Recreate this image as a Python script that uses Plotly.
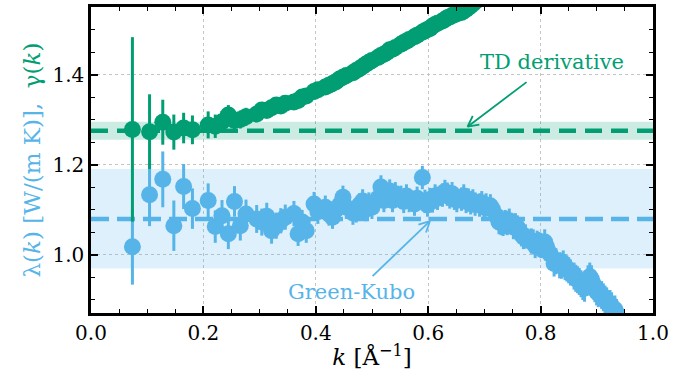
import math
import plotly.graph_objects as go

# ---------------- data ----------------
k_gk = [0.0737, 0.1042, 0.1277, 0.1474, 0.1648, 0.1805, 0.2085, 0.2211, 0.2331, 0.2444,
        0.2553, 0.2657, 0.2758, 0.2948, 0.3039, 0.3127, 0.3213, 0.3296, 0.3377, 0.3457,
        0.3611, 0.3685, 0.3758, 0.3830, 0.3969, 0.4037, 0.4169, 0.4234, 0.4297, 0.4360,
        0.4422, 0.4483, 0.4543, 0.4661, 0.4719, 0.4776, 0.4833, 0.4889, 0.4944, 0.4999,
        0.5106, 0.5159, 0.5211, 0.5263, 0.5315, 0.5365, 0.5416, 0.5515, 0.5564, 0.5613,
        0.5661, 0.5756, 0.5803, 0.5896, 0.5942, 0.5987, 0.6033, 0.6077, 0.6122, 0.6166,
        0.6254, 0.6297, 0.6340, 0.6383, 0.6425, 0.6467, 0.6509, 0.6592, 0.6633, 0.6674,
        0.6714, 0.6755, 0.6795, 0.6835, 0.6914, 0.6953, 0.6992, 0.7030, 0.7107, 0.7146,
        0.7221, 0.7259, 0.7296, 0.7333, 0.7370, 0.7407, 0.7443, 0.7516, 0.7552, 0.7588,
        0.7624, 0.7659, 0.7694, 0.7730, 0.7834, 0.7869, 0.7903, 0.7938, 0.7972, 0.8006,
        0.8073, 0.8107, 0.8140, 0.8174, 0.8240, 0.8273, 0.8338, 0.8371, 0.8403, 0.8435,
        0.8467, 0.8500, 0.8531, 0.8595, 0.8626, 0.8658, 0.8689, 0.8720, 0.8751, 0.8782,
        0.8844, 0.8875, 0.8905, 0.8936, 0.8966, 0.8996, 0.9026, 0.9086, 0.9116, 0.9146,
        0.9176, 0.9235, 0.9264, 0.9322, 0.9351]

lam_gk = [1.017, 1.133, 1.167, 1.064, 1.151, 1.102,
          1.120, 1.062, 1.086, 1.046, 1.118, 1.064, 1.090,
          1.079, 1.072, 1.085, 1.053, 1.064, 1.075, 1.083,
          1.091, 1.046, 1.072, 1.053,
          1.112, 1.095,
          1.105, 1.090, 1.083, 1.100, 1.110, 1.127, 1.105,
          1.092, 1.097, 1.110, 1.119, 1.100, 1.112, 1.105,
          1.125, 1.150, 1.120, 1.130, 1.141, 1.120, 1.135,
          1.127, 1.118, 1.130, 1.120,
          1.112, 1.125,
          1.171, 1.118, 1.110, 1.122, 1.119, 1.130, 1.125,
          1.132, 1.140, 1.134, 1.128, 1.135, 1.125, 1.120,
          1.123, 1.130, 1.118, 1.121, 1.115, 1.119, 1.112,
          1.110, 1.115, 1.105, 1.110,
          1.108, 1.100,
          1.085, 1.072, 1.070, 1.068, 1.072, 1.070, 1.075,
          1.061, 1.065, 1.060, 1.052, 1.045, 1.039, 1.040,
          1.030, 1.028, 1.020, 1.025, 1.022, 1.020,
          1.028, 1.017, 1.006, 1.000,
          0.980, 0.985,
          0.976, 0.975, 0.980, 0.972, 0.969, 0.965, 0.960,
          0.952, 0.947, 0.944, 0.940, 0.935, 0.929, 0.925,
          0.945, 0.951, 0.945, 0.935, 0.925, 0.918, 0.914,
          0.910, 0.905, 0.900, 0.896,
          0.890, 0.885,
          0.878, 0.870]

lam_err = [0.084, 0.070, 0.062, 0.056, 0.050, 0.045,
           0.038, 0.036, 0.035, 0.034, 0.034, 0.033, 0.032,
           0.031, 0.030, 0.030, 0.029, 0.029, 0.028, 0.028,
           0.028, 0.027, 0.027, 0.027,
           0.027, 0.027,
           0.026, 0.026, 0.026, 0.026, 0.026, 0.026, 0.026,
           0.026, 0.026, 0.026, 0.026, 0.026, 0.026, 0.026,
           0.026, 0.026, 0.026, 0.026, 0.026, 0.026, 0.026,
           0.026, 0.026, 0.026, 0.026,
           0.026, 0.026,
           0.026, 0.026, 0.026, 0.026, 0.026, 0.026, 0.026,
           0.026, 0.026, 0.026, 0.026, 0.026, 0.026, 0.026,
           0.026, 0.026, 0.026, 0.026, 0.026, 0.026, 0.026,
           0.026, 0.026, 0.026, 0.026,
           0.026, 0.026,
           0.027, 0.027, 0.027, 0.027, 0.027, 0.027, 0.027,
           0.027, 0.027, 0.027, 0.027, 0.027, 0.027, 0.027,
           0.028, 0.028, 0.028, 0.028, 0.028, 0.028,
           0.028, 0.028, 0.028, 0.028,
           0.029, 0.029,
           0.029, 0.029, 0.029, 0.029, 0.029, 0.029, 0.029,
           0.030, 0.030, 0.030, 0.030, 0.030, 0.030, 0.030,
           0.031, 0.031, 0.031, 0.031, 0.031, 0.031, 0.031,
           0.031, 0.031, 0.031, 0.031,
           0.031, 0.031,
           0.031, 0.031]

k_td = k_gk[:76]
gam_td = [1.278, 1.273, 1.294, 1.272, 1.281, 1.277,
          1.288, 1.285, 1.295, 1.310, 1.298, 1.300, 1.306,
          1.312, 1.321, 1.320, 1.326, 1.332, 1.330, 1.336,
          1.339, 1.342, 1.350, 1.352,
          1.362, 1.366,
          1.372, 1.376, 1.380, 1.384, 1.390, 1.394, 1.398,
          1.404, 1.409, 1.413, 1.418, 1.423, 1.427, 1.431,
          1.438, 1.442, 1.445, 1.449, 1.455, 1.456, 1.460,
          1.467, 1.471, 1.474, 1.478,
          1.484, 1.487,
          1.494, 1.497, 1.500, 1.502, 1.508, 1.511, 1.514,
          1.519, 1.522, 1.526, 1.528, 1.531, 1.533, 1.535,
          1.538, 1.541, 1.545, 1.549, 1.553, 1.557, 1.562,
          1.568, 1.572]
gam_err = [0.205, 0.083, 0.050, 0.039, 0.034, 0.032,
           0.030, 0.026, 0.024, 0.022, 0.021, 0.020, 0.020,
           0.018, 0.017, 0.016, 0.015, 0.015, 0.014, 0.014,
           0.014, 0.013, 0.013, 0.013,
           0.013, 0.013,
           0.012, 0.012, 0.012, 0.012, 0.012, 0.012, 0.012,
           0.012, 0.012, 0.012, 0.012, 0.012, 0.012, 0.012,
           0.012, 0.012, 0.012, 0.012, 0.012, 0.012, 0.012,
           0.012, 0.012, 0.012, 0.012,
           0.012, 0.012,
           0.012, 0.012, 0.012, 0.012, 0.012, 0.012, 0.012,
           0.012, 0.012, 0.012, 0.012, 0.012, 0.012, 0.012,
           0.012, 0.012, 0.012, 0.012, 0.012, 0.012, 0.012,
           0.012, 0.012]

# reference values (mean and uncertainty band)
td_mean, td_lo, td_hi = 1.275, 1.255, 1.295
gk_mean, gk_lo, gk_hi = 1.079, 0.969, 1.190

x_ticks = [0.0, 0.2, 0.4, 0.6, 0.8, 1.0]
y_ticks = [1.0, 1.2, 1.4]

# annotation anchor points (data coords)
td_text_pos = (0.821, 1.427)
td_arrow_tail = (0.775, 1.383)
td_arrow_tip = (0.670, 1.284)
gk_text_pos = (0.464, 0.916)
gk_arrow_tail = (0.501, 0.952)
gk_arrow_tip = (0.603, 1.074)

# ---------------- style ----------------
GREEN = "#029E73"
BLUE = "#56B4E9"
FONT = "DejaVu Serif"
X_RANGE = [0.0, 1.0]
Y_RANGE = [0.87, 1.55]
W_FIG, H_FIG = 680, 391
ML, MR, MT, MB = 91, 27, 4, 78
PW = W_FIG - ML - MR
PH = H_FIG - MT - MB

fig = go.Figure()

# bands
for lo, hi, col in [(gk_lo, gk_hi, "rgba(86,180,233,0.2)"), (td_lo, td_hi, "rgba(2,158,115,0.2)")]:
    fig.add_trace(go.Scatter(x=X_RANGE, y=[lo, lo], mode="lines", line=dict(width=0),
                             hoverinfo="skip", showlegend=False))
    fig.add_trace(go.Scatter(x=X_RANGE, y=[hi, hi], mode="lines", line=dict(width=0),
                             fill="tonexty", fillcolor=col, hoverinfo="skip", showlegend=False))

# dashed means
fig.add_trace(go.Scatter(x=X_RANGE, y=[gk_mean, gk_mean], mode="lines",
                         line=dict(color=BLUE, width=4.5, dash="18px,8px"), showlegend=False))
fig.add_trace(go.Scatter(x=X_RANGE, y=[td_mean, td_mean], mode="lines",
                         line=dict(color=GREEN, width=4.5, dash="17px,9px"), showlegend=False))

# data
fig.add_trace(go.Scatter(x=k_gk, y=lam_gk, mode="markers",
                         marker=dict(color=BLUE, size=17, line=dict(width=0)),
                         error_y=dict(type="data", array=lam_err, color=BLUE, thickness=3, width=0),
                         showlegend=False))
fig.add_trace(go.Scatter(x=k_td, y=gam_td, mode="markers",
                         marker=dict(color=GREEN, size=17, line=dict(width=0)),
                         error_y=dict(type="data", array=gam_err, color=GREEN, thickness=3, width=0),
                         showlegend=False))


def to_px(x, y):
    return (ML + (x - X_RANGE[0]) / (X_RANGE[1] - X_RANGE[0]) * PW,
            MT + (Y_RANGE[1] - y) / (Y_RANGE[1] - Y_RANGE[0]) * PH)


def to_data(px, py):
    return (X_RANGE[0] + (px - ML) / PW * (X_RANGE[1] - X_RANGE[0]),
            Y_RANGE[1] - (py - MT) / PH * (Y_RANGE[1] - Y_RANGE[0]))


shapes = []


def arrow(tail, tip, color):
    shapes.append(dict(type="line", xref="x", yref="y", x0=tail[0], y0=tail[1], x1=tip[0], y1=tip[1],
                       line=dict(color=color, width=1.8)))
    tx, ty = to_px(*tail)
    hx, hy = to_px(*tip)
    dx, dy = tx - hx, ty - hy
    n = math.hypot(dx, dy)
    ux, uy = dx / n, dy / n
    for a in (math.radians(27), -math.radians(27)):
        wx = ux * math.cos(a) - uy * math.sin(a)
        wy = ux * math.sin(a) + uy * math.cos(a)
        ex, ey = to_data(hx + 12 * wx, hy + 12 * wy)
        shapes.append(dict(type="line", xref="x", yref="y", x0=tip[0], y0=tip[1], x1=ex, y1=ey,
                           line=dict(color=color, width=1.8)))


arrow(td_arrow_tail, td_arrow_tip, GREEN)
arrow(gk_arrow_tail, gk_arrow_tip, BLUE)

annotations = [
    dict(x=td_text_pos[0], y=td_text_pos[1], xref="x", yref="y", text="TD derivative",
         showarrow=False, font=dict(family=FONT, size=21, color=GREEN)),
    dict(x=gk_text_pos[0], y=gk_text_pos[1], xref="x", yref="y", text="Green-Kubo",
         showarrow=False, font=dict(family=FONT, size=21, color=BLUE)),
]

axis_common = dict(
    ticks="inside", ticklen=7, tickwidth=1.6, tickcolor="black",
    showline=True, linewidth=2.5, linecolor="black", mirror="allticks",
    showgrid=True, gridcolor="#c4c4c4", gridwidth=1, griddash="dot",
    zeroline=False,
    tickfont=dict(family=FONT, size=20, color="black"),
)
minor_common = dict(ticks="inside", ticklen=4, tickwidth=1.2, tickcolor="black", showgrid=False,
                    dtick=0.05, tick0=0)

fig.update_layout(
    width=W_FIG, height=H_FIG,
    margin=dict(l=ML, r=MR, t=MT, b=MB),
    paper_bgcolor="white", plot_bgcolor="white",
    shapes=shapes, annotations=annotations,
    xaxis=dict(range=X_RANGE, tickvals=x_ticks, ticktext=[f"{v:.1f}" for v in x_ticks],
               title=dict(text="<i>k</i> [Å<sup>−1</sup>]", font=dict(family=FONT, size=23, color="black"),
                          standoff=6),
               minor=minor_common, **axis_common),
    yaxis=dict(range=Y_RANGE, tickvals=y_ticks, ticktext=[f"{v:.1f}" for v in y_ticks],
               title=dict(text=(f"<span style='color:{BLUE}'>λ(<i>k</i>)&nbsp;[W/(m&nbsp;K)],</span>&nbsp; "
                                f"<span style='color:{GREEN}'>γ(<i>k</i>)</span>"),
                          font=dict(family=FONT, size=23), standoff=6),
               minor=minor_common, **axis_common),
)

fig.write_html("out.html")
